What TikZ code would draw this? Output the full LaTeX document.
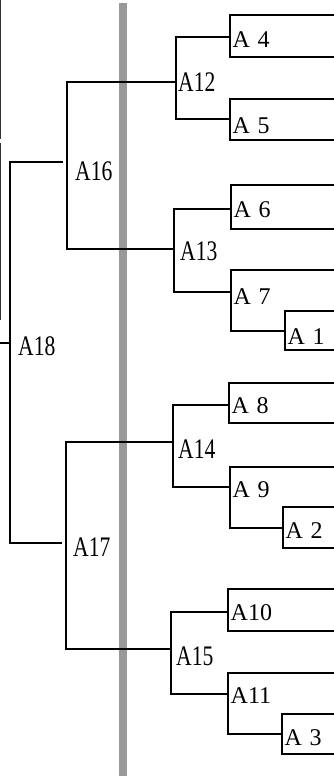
\documentclass[tikz,border=0pt]{standalone}
\usepackage{fontspec}
\setmainfont{Liberation Serif}
\usepackage{graphicx}
\definecolor{barcol}{RGB}{153,153,153}
\newcommand{\leaffont}{\fontsize{24}{26}\selectfont\spaceskip=0.32em\relax}
\newcommand{\tallTxt}[1]{\scalebox{0.9}[1.18]{#1}}
\newcommand{\myleaf}[7]{%
  \draw[boxline] (334,#3) -- (#2,#3) -- (#2,#4) -- (334,#4);
  \coordinate (#1) at (#2,#5);
  \node[leaflabel] (l#1) at (#2+2.5,#6) {#7};}
\newcommand{\myopenleaf}[6]{%
  \draw[boxline] (334,#3) -- (#2,#3) -- (#2,#4);
  \coordinate (#1) at (#2,#4);
  \node[leaflabel] (l#1) at (#2+2.5,#5) {#6};}
\begin{document}
\begin{tikzpicture}[x=1pt,y=-1pt,
  tree/.style={line width=1.3pt, black},
  boxline/.style={line width=1.2pt, black},
  edgeline/.style={line width=1pt, black!80},
  leaflabel/.style={anchor=base west, inner sep=0pt, font=\leaffont},
  inlabel/.style={anchor=base west, inner sep=0pt, font=\leaffont}]
\useasboundingbox (0,0) rectangle (334,776);
\fill[barcol] (119,3) rectangle (126.5,776);
\draw[edgeline] (0.6,0) -- (0.6,139);
\draw[edgeline] (0.6,143) -- (0.6,320);
% internal junctions
\coordinate (root) at (0,343);
\coordinate (A18) at (10,343);
\coordinate (A16) at (67,162);
\coordinate (A17) at (66,543);
\coordinate (A12) at (176,82);
\coordinate (A13) at (174,249);
\coordinate (A14) at (173,442);
\coordinate (A15) at (171,649);
% internal labels
\node[inlabel] (lA18) at (18,355) {\tallTxt{A18}};
\node[inlabel] (lA16) at (75,180) {\tallTxt{A16}};
\node[inlabel] (lA17) at (73,556) {\tallTxt{A17}};
\node[inlabel] (lA12) at (178,92) {\tallTxt{A12}};
\node[inlabel] (lA13) at (180,260) {\tallTxt{A13}};
\node[inlabel] (lA14) at (178,458) {\tallTxt{A14}};
\node[inlabel] (lA15) at (176,665) {\tallTxt{A15}};
% leaves
\myleaf{A4}{230}{15}{57}{37}{48}{A 4}
\myleaf{A5}{230}{99}{140}{119}{133}{A 5}
\myleaf{A6}{231}{185}{229}{209}{217}{A 6}
\myopenleaf{A7}{231}{270}{292}{304}{A 7}
\myleaf{A1}{285}{311}{350}{331}{344}{A 1}
\myleaf{A8}{229}{383}{423}{405}{413}{A 8}
\myopenleaf{A9}{230}{467}{487}{497}{A 9}
\myleaf{A2}{283}{507}{548}{528}{538}{A 2}
\myleaf{A10}{228}{589}{631}{612}{620}{A10}
\myopenleaf{A11}{228}{673}{694}{703}{A11}
\myleaf{A3}{282}{714}{754}{734}{745}{A 3}
% connectors
\draw[tree] (root) -- (A18);
\draw[tree, shorten >=4pt] (A18) |- (A16);
\draw[tree, shorten >=4pt] (A18) |- (A17);
\draw[tree] (A16) |- (A12);
\draw[tree] (A16) |- (A13);
\draw[tree] (A17) |- (A14);
\draw[tree] (A17) |- (A15);
\draw[tree] (A12) |- (A4);
\draw[tree] (A12) |- (A5);
\draw[tree] (A13) |- (A6);
\draw[tree] (A13) |- (A7);
\draw[tree] (A7) |- (A1);
\draw[tree] (A14) |- (A8);
\draw[tree] (A14) |- (A9);
\draw[tree] (A9) |- (A2);
\draw[tree] (A15) |- (A10);
\draw[tree] (A15) |- (A11);
\draw[tree] (A11) |- (A3);
\end{tikzpicture}
\end{document}
